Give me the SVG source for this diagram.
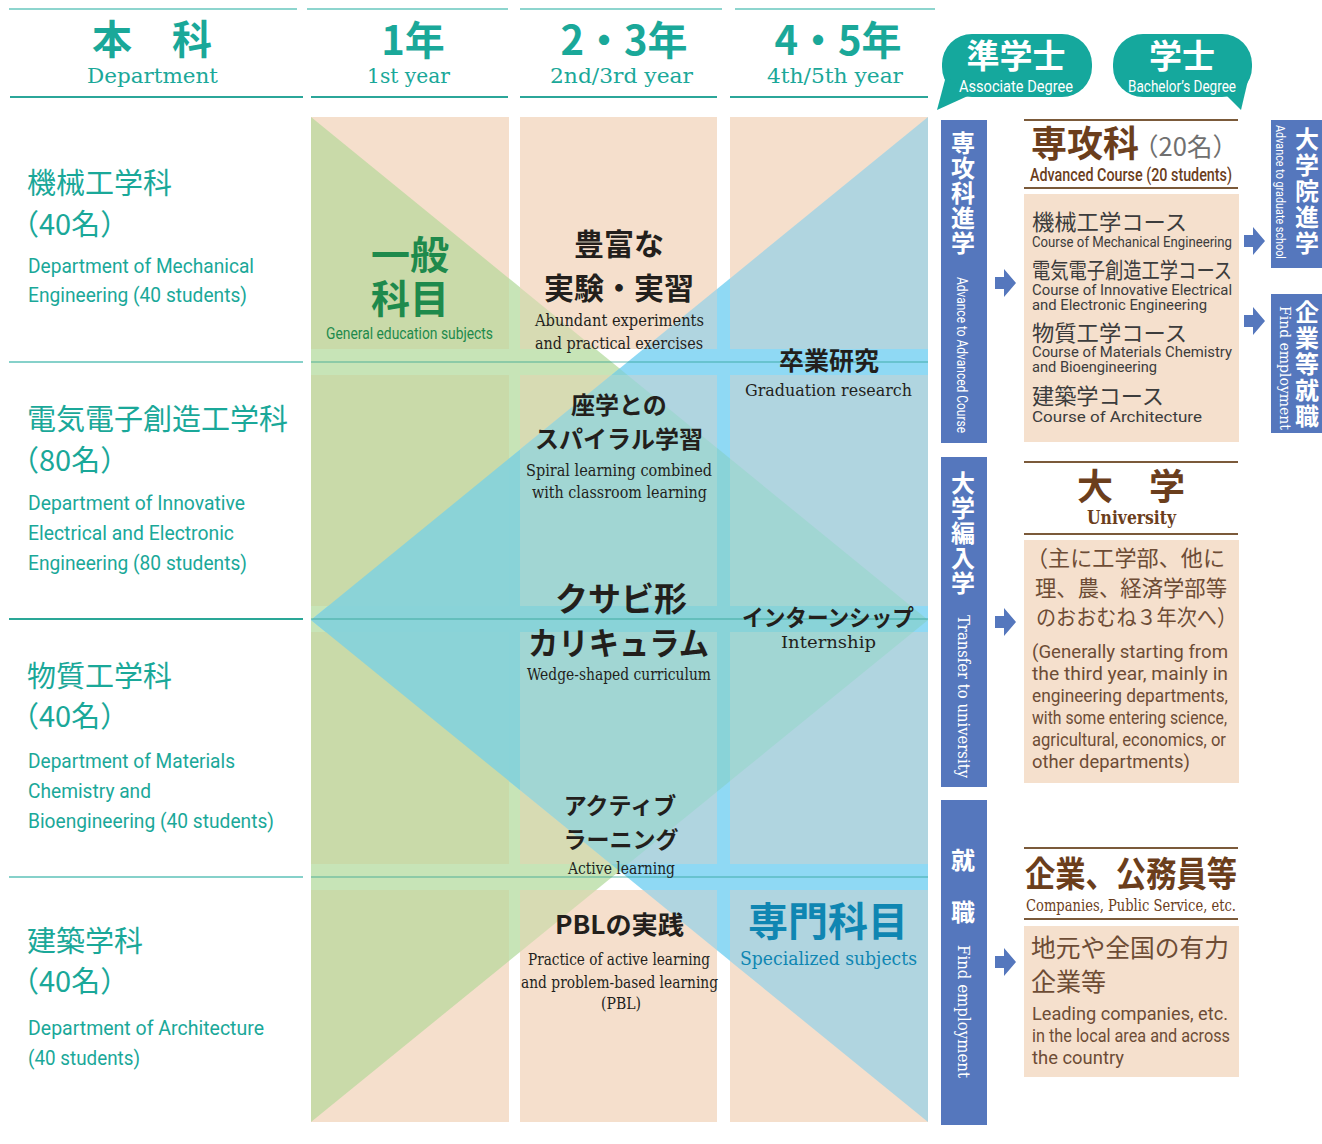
<svg xmlns="http://www.w3.org/2000/svg" width="1322" height="1144" viewBox="0 0 1322 1144">
<style>
.jp{font-family:'Noto Sans CJK JP','Noto Sans',sans-serif}
.jpb{font-family:'Noto Sans CJK JP','Noto Sans',sans-serif;font-weight:700}
.sans{font-family:Roboto,'Liberation Sans',sans-serif}
.serif{font-family:'DejaVu Serif','Liberation Serif',serif}
.teal{fill:#1aa899}
.dark{fill:#231f1c}
.brown{fill:#6b3e1c}
.bt{fill:#6d4c35}
.gray{fill:#3c3c3c}
.white{fill:#ffffff}
.mid{text-anchor:middle}
.vert{writing-mode:vertical-rl}
.bar{fill:#5577bd}
.bline{stroke:#7b5a3a;stroke-width:2}
.box{fill:#f5e0cd}
</style>
<defs>
<clipPath id="col1Clip">
<rect x="311" y="117" width="198" height="232"/>
<rect x="311" y="375" width="198" height="231"/>
<rect x="311" y="632" width="198" height="232"/>
<rect x="311" y="890" width="198" height="232"/>
</clipPath>
<clipPath id="col2Clip">
<rect x="520" y="117" width="197" height="232"/>
<rect x="520" y="375" width="197" height="231"/>
<rect x="520" y="632" width="197" height="232"/>
<rect x="520" y="890" width="197" height="232"/>
</clipPath>
<clipPath id="col3Clip">
<rect x="730" y="117" width="198" height="232"/>
<rect x="730" y="375" width="198" height="231"/>
<rect x="730" y="632" width="198" height="232"/>
<rect x="730" y="890" width="198" height="232"/>
</clipPath>
<path id="tri-green" d="M311,117 L928,620 L311,1122 Z"/>
<path id="tri-blue" d="M928,117 L311,620 L928,1122 Z"/>
<path id="diamond" d="M619.5,368.5 L928,620 L619.5,871 L311,620 Z"/>
<path id="arr" d="M-10,-6 H-1 V-14 L11,0 L-1,14 V6 H-10 Z" fill="#5577bd"/>
</defs>
<rect width="1322" height="1144" fill="#ffffff"/>

<g id="curriculum-background">
<use href="#tri-green" fill="#c7e4b7"/>
<use href="#tri-blue" fill="#8fd9f4"/>
<use href="#diamond" fill="#89d3d8"/>
<g clip-path="url(#col1Clip)">
<rect x="311" y="117" width="198" height="1005" fill="#f5dfcc"/>
<use href="#tri-green" fill="#c9daa9"/>
<use href="#diamond" fill="#8bd3d7"/>
</g>
<g clip-path="url(#col2Clip)">
<rect x="520" y="117" width="197" height="1005" fill="#f5dfcc"/>
<use href="#tri-green" fill="#d7dbb3"/>
<use href="#tri-blue" fill="#b0d5e0"/>
<use href="#diamond" fill="#a1d6d3"/>
</g>
<g clip-path="url(#col3Clip)">
<rect x="730" y="117" width="198" height="1005" fill="#f5dfcc"/>
<use href="#tri-blue" fill="#b0d5e0"/>
<use href="#diamond" fill="#a1d6d3"/>
</g>
<g stroke="#1f9a8a" stroke-opacity="0.35" stroke-width="2">
<line x1="311" y1="362" x2="928" y2="362"/>
<line x1="311" y1="619" x2="928" y2="619"/>
<line x1="311" y1="877" x2="928" y2="877"/>
</g>
</g>

<g id="header">
<g stroke="#8dd5ce" stroke-width="2">
<line x1="9" y1="9" x2="297" y2="9"/>
<line x1="307" y1="9" x2="508" y2="9"/>
<line x1="520" y1="9" x2="722" y2="9"/>
<line x1="735" y1="9" x2="935" y2="9"/>
</g>
<g stroke="#2ba699" stroke-width="2">
<line x1="10" y1="97" x2="303" y2="97"/>
<line x1="311" y1="97" x2="508" y2="97"/>
<line x1="520" y1="97" x2="717" y2="97"/>
<line x1="730" y1="97" x2="928" y2="97"/>
</g>
<g id="h-dept">
<text class="jpb teal mid" x="152" y="54" font-size="40">本　科</text>
<text class="serif teal" x="87" y="83" font-size="21" textLength="131" lengthAdjust="spacingAndGlyphs">Department</text>
</g>
<g id="h-y1">
<text class="jpb teal mid" x="413" y="55" font-size="40">1年</text>
<text class="serif teal" x="367" y="83" font-size="21" textLength="83" lengthAdjust="spacingAndGlyphs">1st year</text>
</g>
<g id="h-y23">
<text class="jpb teal mid" x="624" y="55" font-size="40">2・3年</text>
<text class="serif teal" x="550" y="83" font-size="21" textLength="143" lengthAdjust="spacingAndGlyphs">2nd/3rd year</text>
</g>
<g id="h-y45">
<text class="jpb teal mid" x="838" y="55" font-size="40">4・5年</text>
<text class="serif teal" x="767" y="83" font-size="21" textLength="136" lengthAdjust="spacingAndGlyphs">4th/5th year</text>
</g>
<g id="bubble-associate">
<rect x="942" y="34" width="150" height="63" rx="30" fill="#15a89d"/>
<path d="M946,76 L937,110 L970,95 Z" fill="#15a89d"/>
<text class="jpb white mid" x="1016" y="68" font-size="33">準学士</text>
<text class="sans white" x="959" y="92" font-size="16" textLength="114" lengthAdjust="spacingAndGlyphs">Associate Degree</text>
</g>
<g id="bubble-bachelor">
<rect x="1113" y="34" width="139" height="63" rx="30" fill="#15a89d"/>
<path d="M1226,95 L1241,110 L1249,76 Z" fill="#15a89d"/>
<text class="jpb white mid" x="1182" y="68" font-size="33">学士</text>
<text class="sans white" x="1128" y="92" font-size="16" textLength="108" lengthAdjust="spacingAndGlyphs">Bachelor’s Degree</text>
</g>
</g>

<g id="dept-separators">
<line x1="9" y1="362" x2="303" y2="362" stroke="#86d1ca" stroke-width="2"/>
<line x1="9" y1="619" x2="303" y2="619" stroke="#2aa797" stroke-width="2"/>
<line x1="9" y1="877" x2="303" y2="877" stroke="#86d1ca" stroke-width="2"/>
</g>

<g id="dept-mechanical">
<text class="jp teal" x="27" y="194" font-size="29">機械工学科</text>
<text class="jp teal" x="10" y="235" font-size="29">（40名）</text>
<text class="sans teal" x="28" y="273" font-size="21" textLength="226" lengthAdjust="spacingAndGlyphs">Department of Mechanical</text>
<text class="sans teal" x="28" y="302" font-size="21" textLength="219" lengthAdjust="spacingAndGlyphs">Engineering (40 students)</text>
</g>
<g id="dept-electrical">
<text class="jp teal" x="27" y="430" font-size="29">電気電子創造工学科</text>
<text class="jp teal" x="10" y="471" font-size="29">（80名）</text>
<text class="sans teal" x="28" y="510" font-size="21" textLength="217" lengthAdjust="spacingAndGlyphs">Department of Innovative</text>
<text class="sans teal" x="28" y="540" font-size="21" textLength="206" lengthAdjust="spacingAndGlyphs">Electrical and Electronic</text>
<text class="sans teal" x="28" y="570" font-size="21" textLength="219" lengthAdjust="spacingAndGlyphs">Engineering (80 students)</text>
</g>
<g id="dept-materials">
<text class="jp teal" x="27" y="687" font-size="29">物質工学科</text>
<text class="jp teal" x="10" y="727" font-size="29">（40名）</text>
<text class="sans teal" x="28" y="768" font-size="21" textLength="207" lengthAdjust="spacingAndGlyphs">Department of Materials</text>
<text class="sans teal" x="28" y="798" font-size="21" textLength="123" lengthAdjust="spacingAndGlyphs">Chemistry and</text>
<text class="sans teal" x="28" y="828" font-size="21" textLength="246" lengthAdjust="spacingAndGlyphs">Bioengineering (40 students)</text>
</g>
<g id="dept-architecture">
<text class="jp teal" x="27" y="952" font-size="29">建築学科</text>
<text class="jp teal" x="10" y="992" font-size="29">（40名）</text>
<text class="sans teal" x="28" y="1035" font-size="21" textLength="236" lengthAdjust="spacingAndGlyphs">Department of Architecture</text>
<text class="sans teal" x="28" y="1065" font-size="21" textLength="112" lengthAdjust="spacingAndGlyphs">(40 students)</text>
</g>

<g id="general-subjects">
<text class="jpb mid" x="410" y="269" font-size="39" fill="#1e8a4c">一般</text>
<text class="jpb mid" x="410" y="313" font-size="39" fill="#1e8a4c">科目</text>
<text class="sans" x="326" y="339" font-size="17" fill="#1e8a4c" textLength="167" lengthAdjust="spacingAndGlyphs">General education subjects</text>
</g>
<g id="experiments">
<text class="jpb dark mid" x="619" y="255" font-size="30">豊富な</text>
<text class="jpb dark mid" x="619" y="299" font-size="30">実験・実習</text>
<text class="serif dark" x="535" y="326" font-size="17" textLength="169" lengthAdjust="spacingAndGlyphs">Abundant experiments</text>
<text class="serif dark" x="535" y="349" font-size="17" textLength="168" lengthAdjust="spacingAndGlyphs">and practical exercises</text>
</g>
<g id="graduation-research">
<text class="jpb dark mid" x="829" y="370" font-size="25">卒業研究</text>
<text class="serif dark" x="745" y="396" font-size="17" textLength="167" lengthAdjust="spacingAndGlyphs">Graduation research</text>
</g>
<g id="spiral-learning">
<text class="jpb dark mid" x="619" y="414" font-size="24">座学との</text>
<text class="jpb dark mid" x="619" y="448" font-size="24">スパイラル学習</text>
<text class="serif dark" x="526" y="476" font-size="17" textLength="186" lengthAdjust="spacingAndGlyphs">Spiral learning combined</text>
<text class="serif dark" x="532" y="498" font-size="17" textLength="175" lengthAdjust="spacingAndGlyphs">with classroom learning</text>
</g>
<g id="wedge-curriculum">
<text class="jpb dark mid" x="621" y="611" font-size="33">クサビ形</text>
<text class="jpb dark" x="528" y="655" font-size="32" textLength="181" lengthAdjust="spacingAndGlyphs">カリキュラム</text>
<text class="serif dark" x="527" y="680" font-size="17" textLength="184" lengthAdjust="spacingAndGlyphs">Wedge-shaped curriculum</text>
</g>
<g id="internship">
<text class="jpb dark" x="742" y="626" font-size="23" textLength="172" lengthAdjust="spacingAndGlyphs">インターンシップ</text>
<text class="serif dark" x="781" y="648" font-size="17" textLength="95" lengthAdjust="spacingAndGlyphs">Internship</text>
</g>
<g id="active-learning">
<text class="jpb dark mid" x="620" y="814" font-size="23">アクティブ</text>
<text class="jpb dark mid" x="621" y="848" font-size="23">ラーニング</text>
<text class="serif dark" x="568" y="874" font-size="17" textLength="107" lengthAdjust="spacingAndGlyphs">Active learning</text>
</g>
<g id="pbl">
<text class="jpb dark" x="555" y="934" font-size="25" textLength="129" lengthAdjust="spacingAndGlyphs">PBLの実践</text>
<text class="serif dark" x="528" y="965" font-size="17" textLength="182" lengthAdjust="spacingAndGlyphs">Practice of active learning</text>
<text class="serif dark" x="521" y="988" font-size="17" textLength="197" lengthAdjust="spacingAndGlyphs">and problem-based learning</text>
<text class="serif dark" x="601" y="1009" font-size="17" textLength="40" lengthAdjust="spacingAndGlyphs">(PBL)</text>
</g>
<g id="specialized-subjects">
<text class="jpb mid" x="828" y="936" font-size="40" fill="#0f86b2">専門科目</text>
<text class="serif" x="740" y="965" font-size="19" fill="#0f86b2" textLength="177" lengthAdjust="spacingAndGlyphs">Specialized subjects</text>
</g>

<g id="bar-advanced">
<rect class="bar" x="941" y="120" width="46" height="323"/>
<text class="jpb white vert" x="963" y="131" font-size="24" letter-spacing="1">専攻科進学</text>
<text class="sans white" font-size="14" transform="translate(957,277) rotate(90)" textLength="156" lengthAdjust="spacingAndGlyphs">Advance to Advanced Course</text>
</g>
<g id="bar-transfer">
<rect class="bar" x="941" y="457" width="46" height="330"/>
<text class="jpb white vert" x="963" y="471" font-size="24" letter-spacing="1">大学編入学</text>
<text class="serif white" font-size="17" transform="translate(958,615) rotate(90)" textLength="163" lengthAdjust="spacingAndGlyphs">Transfer to university</text>
</g>
<g id="bar-employment">
<rect class="bar" x="941" y="800" width="46" height="325"/>
<text class="jpb white vert" x="963" y="848" font-size="24" letter-spacing="28">就職</text>
<text class="serif white" font-size="17" transform="translate(958,945) rotate(90)" textLength="133" lengthAdjust="spacingAndGlyphs">Find employment</text>
</g>

<g id="advanced-course">
<line class="bline" x1="1024" y1="120" x2="1238" y2="120"/>
<text class="jpb brown" x="1031" y="157" font-size="36">専攻科</text>
<text class="jp" x="1133" y="156" font-size="25" fill="#707070" textLength="105" lengthAdjust="spacingAndGlyphs">（20名）</text>
<text class="sans brown" x="1030" y="181" font-size="18" font-weight="500" textLength="202" lengthAdjust="spacingAndGlyphs">Advanced Course (20 students)</text>
<line class="bline" x1="1024" y1="188" x2="1238" y2="188"/>
<rect class="box" x="1024" y="194" width="215" height="248"/>
<text class="jp gray" x="1032" y="230" font-size="22" textLength="155" lengthAdjust="spacingAndGlyphs">機械工学コース</text>
<text class="sans gray" x="1032" y="247" font-size="14.5" textLength="200" lengthAdjust="spacingAndGlyphs">Course of Mechanical Engineering</text>
<text class="jp gray" x="1032" y="278" font-size="22" textLength="200" lengthAdjust="spacingAndGlyphs">電気電子創造工学コース</text>
<text class="sans gray" x="1032" y="295" font-size="14.5" textLength="200" lengthAdjust="spacingAndGlyphs">Course of Innovative Electrical</text>
<text class="sans gray" x="1032" y="310" font-size="14.5" textLength="175" lengthAdjust="spacingAndGlyphs">and Electronic Engineering</text>
<text class="jp gray" x="1032" y="341" font-size="22" textLength="155" lengthAdjust="spacingAndGlyphs">物質工学コース</text>
<text class="sans gray" x="1032" y="357" font-size="14.5" textLength="200" lengthAdjust="spacingAndGlyphs">Course of Materials Chemistry</text>
<text class="sans gray" x="1032" y="372" font-size="14.5" textLength="125" lengthAdjust="spacingAndGlyphs">and Bioengineering</text>
<text class="jp gray" x="1032" y="404" font-size="22" textLength="132" lengthAdjust="spacingAndGlyphs">建築学コース</text>
<text class="sans gray" x="1032" y="422" font-size="14.5" textLength="170" lengthAdjust="spacingAndGlyphs">Course of Architecture</text>
</g>

<g id="university">
<line class="bline" x1="1024" y1="462" x2="1238" y2="462"/>
<text class="jpb brown mid" x="1131" y="500" font-size="36">大　学</text>
<text class="serif brown" x="1087" y="524" font-size="19" font-weight="bold" textLength="89" lengthAdjust="spacingAndGlyphs">University</text>
<line class="bline" x1="1024" y1="534" x2="1238" y2="534"/>
<rect class="box" x="1024" y="540" width="215" height="243"/>
<text class="jp bt" x="1026" y="566" font-size="22" textLength="199" lengthAdjust="spacingAndGlyphs">（主に工学部、他に</text>
<text class="jp bt" x="1035" y="596" font-size="22" textLength="192" lengthAdjust="spacingAndGlyphs">理、農、経済学部等</text>
<text class="jp bt" x="1036" y="625" font-size="22" textLength="201" lengthAdjust="spacingAndGlyphs">のおおむね３年次へ）</text>
<text class="sans bt" x="1032" y="658" font-size="18.5" textLength="196" lengthAdjust="spacingAndGlyphs">(Generally starting from</text>
<text class="sans bt" x="1032" y="680" font-size="18.5" textLength="196" lengthAdjust="spacingAndGlyphs">the third year, mainly in</text>
<text class="sans bt" x="1032" y="702" font-size="18.5" textLength="196" lengthAdjust="spacingAndGlyphs">engineering departments,</text>
<text class="sans bt" x="1032" y="724" font-size="18.5" textLength="195" lengthAdjust="spacingAndGlyphs">with some entering science,</text>
<text class="sans bt" x="1032" y="746" font-size="18.5" textLength="194" lengthAdjust="spacingAndGlyphs">agricultural, economics, or</text>
<text class="sans bt" x="1032" y="768" font-size="18.5" textLength="158" lengthAdjust="spacingAndGlyphs">other departments)</text>
</g>

<g id="companies">
<line class="bline" x1="1024" y1="848" x2="1238" y2="848"/>
<text class="jpb brown" x="1025" y="887" font-size="35" textLength="212" lengthAdjust="spacingAndGlyphs">企業、公務員等</text>
<text class="serif brown" x="1026" y="911" font-size="17" textLength="210" lengthAdjust="spacingAndGlyphs">Companies, Public Service, etc.</text>
<line class="bline" x1="1024" y1="919" x2="1238" y2="919"/>
<rect class="box" x="1024" y="926" width="215" height="151"/>
<text class="jp bt" x="1031" y="957" font-size="25" textLength="198" lengthAdjust="spacingAndGlyphs">地元や全国の有力</text>
<text class="jp bt" x="1031" y="991" font-size="25">企業等</text>
<text class="sans bt" x="1032" y="1020" font-size="18.5" textLength="196" lengthAdjust="spacingAndGlyphs">Leading companies, etc.</text>
<text class="sans bt" x="1032" y="1042" font-size="18.5" textLength="198" lengthAdjust="spacingAndGlyphs">in the local area and across</text>
<text class="sans bt" x="1032" y="1064" font-size="18.5" textLength="92" lengthAdjust="spacingAndGlyphs">the country</text>
</g>

<g id="bar-graduate-school">
<rect class="bar" x="1271" y="120" width="51" height="148"/>
<text class="jpb white vert" x="1307" y="127" font-size="24" letter-spacing="2">大学院進学</text>
<text class="sans white" font-size="12" transform="translate(1276,125) rotate(90)" textLength="134" lengthAdjust="spacingAndGlyphs">Advance to graduate school</text>
</g>
<g id="bar-find-employment">
<rect class="bar" x="1271" y="294" width="51" height="139"/>
<text class="jpb white vert" x="1307" y="300" font-size="24" letter-spacing="2">企業等就職</text>
<text class="serif white" font-size="14" transform="translate(1280,306) rotate(90)" textLength="124" lengthAdjust="spacingAndGlyphs">Find employment</text>
</g>

<g id="connectors">
<use href="#arr" x="1005" y="283"/>
<use href="#arr" x="1005" y="622"/>
<use href="#arr" x="1005" y="962"/>
<use href="#arr" x="1254" y="241"/>
<use href="#arr" x="1254" y="321"/>
</g>
</svg>
